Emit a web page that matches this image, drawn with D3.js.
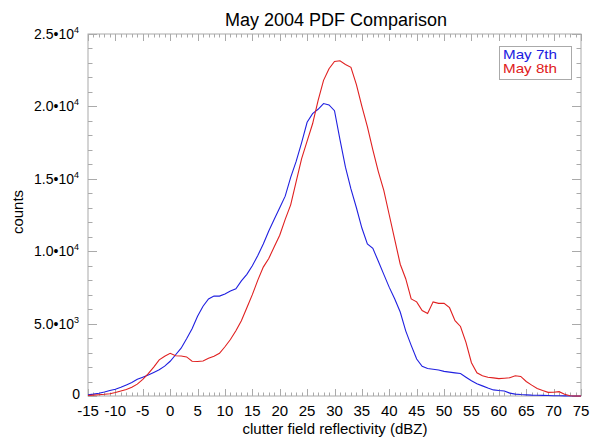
<!DOCTYPE html>
<html><head><meta charset="utf-8">
<script src="https://cdn.jsdelivr.net/npm/d3@7"></script>
<style>body{margin:0;background:#fff;} svg{display:block;}</style>
</head><body>
<script>
const dbz = d3.range(-15, 76, 1);
const may7 = [80,130,190,270,380,470,600,760,930,1150,1300,1450,1630,1820,2060,2400,2850,3300,3950,4650,5500,6200,6700,6900,6900,7050,7250,7400,7950,8400,9000,9700,10500,11400,12200,13000,13800,15100,16200,17500,18900,19500,19800,20200,20100,19700,17700,15800,14300,13000,11600,10500,10200,9300,8400,7500,6700,5800,4500,3500,2550,2050,1900,1850,1800,1700,1650,1600,1550,1300,1050,850,700,550,420,380,350,200,130,100,80,60,50,40,30,20,15,10,5,0,0];
const may8 = [30,60,90,120,160,240,350,450,600,820,1150,1550,2000,2500,2750,2950,2780,2760,2700,2400,2380,2420,2600,2750,2950,3400,3900,4500,5200,6100,7000,8000,8900,9500,10300,11100,12200,13200,14800,16400,17600,18800,20400,21800,22600,23100,23150,22900,22700,21500,20000,18600,17000,15500,14200,12500,10800,9100,8100,6700,6500,5900,5700,6500,6400,6400,6100,5200,4800,3700,2300,1600,1400,1300,1250,1200,1230,1260,1400,1350,1000,750,520,380,250,260,300,120,20,0,0];
const xTicks = d3.range(-15, 76, 5);
const yTicks = [0, 5000, 10000, 15000, 20000, 25000];
const yTickLabels = [["0",""],["5.0•10","3"],["1.0•10","4"],["1.5•10","4"],["2.0•10","4"],["2.5•10","4"]];
const seriesNames = ["May 7th", "May 8th"];
const seriesColors = ["#2020e0", "#e02020"];

const W = 592, H = 438;
const m = {l: 88, r: 581, t: 34, b: 396};
const svg = d3.select("body").append("svg").attr("width", W).attr("height", H)
  .style("font-family", "'Liberation Sans', Arial, Helvetica, sans-serif");
const x = d3.scaleLinear().domain([-15, 75]).range([m.l, m.r]);
const y = d3.scaleLinear().domain([0, 25000]).range([m.b, m.t]);

const axCol = "#aaa";
svg.append("rect").attr("x", m.l).attr("y", m.t).attr("width", m.r - m.l).attr("height", m.b - m.t)
  .attr("fill", "none").attr("stroke", axCol).attr("stroke-width", 1);

const gT = svg.append("g").attr("stroke", axCol).attr("stroke-width", 1);
d3.range(-15, 76, 1).forEach(v => {
  const len = v % 5 === 0 ? 7 : 3.5;
  const xx = Math.round(x(v)) + 0.5;
  gT.append("line").attr("x1", xx).attr("x2", xx).attr("y1", m.b).attr("y2", m.b - len);
  gT.append("line").attr("x1", xx).attr("x2", xx).attr("y1", m.t).attr("y2", m.t + len);
});
d3.range(0, 25001, 1000).forEach(v => {
  const len = v % 5000 === 0 ? 9 : 4.5;
  const yy = Math.round(y(v)) + 0.5;
  gT.append("line").attr("x1", m.l).attr("x2", m.l + len).attr("y1", yy).attr("y2", yy);
  gT.append("line").attr("x1", m.r).attr("x2", m.r - len).attr("y1", yy).attr("y2", yy);
});

svg.append("g").selectAll("text").data(xTicks).join("text")
  .attr("x", d => x(d)).attr("y", 416).attr("text-anchor", "middle")
  .attr("font-size", 15).attr("fill", "#000").text(d => d);

const yl = svg.append("g").selectAll("text").data(yTicks).join("text")
  .attr("x", d => d === 0 ? 80 : 79).attr("y", d => d === 0 ? y(d) + 3 : y(d) + 5).attr("text-anchor", "end")
  .attr("font-size", 14).attr("fill", "#000");
yl.each(function(d, i) {
  const t = d3.select(this);
  t.append("tspan").text(yTickLabels[i][0]);
  if (yTickLabels[i][1]) t.append("tspan").attr("font-size", 9).attr("dy", -6).text(yTickLabels[i][1]);
});

const line = d3.line().x((d, i) => x(dbz[i])).y(d => y(d));
[may7, may8].forEach((s, k) => {
  svg.append("path").datum(s).attr("d", line).attr("fill", "none")
    .attr("stroke", seriesColors[k]).attr("stroke-width", 1.1);
});

svg.append("text").attr("x", 336).attr("y", 26).attr("text-anchor", "middle")
  .attr("font-size", 18).attr("fill", "#000").text("May 2004 PDF Comparison");
svg.append("text").attr("x", 335).attr("y", 434).attr("text-anchor", "middle")
  .attr("font-size", 15).attr("fill", "#000").text("clutter field reflectivity (dBZ)");
svg.append("text").attr("transform", "translate(23,212) rotate(-90)").attr("text-anchor", "middle")
  .attr("font-size", 15).attr("fill", "#000").text("counts");

svg.append("rect").attr("x", 499.5).attr("y", 46.5).attr("width", 72).attr("height", 33)
  .attr("fill", "#fff").attr("stroke", "#aaa");
seriesNames.forEach((n, k) => {
  svg.append("text").attr("x", 503).attr("y", 58.5 + k * 14.5).attr("font-size", 13)
    .attr("textLength", 54).attr("lengthAdjust", "spacingAndGlyphs").attr("fill", seriesColors[k]).text(n);
});
</script>
</body></html>
